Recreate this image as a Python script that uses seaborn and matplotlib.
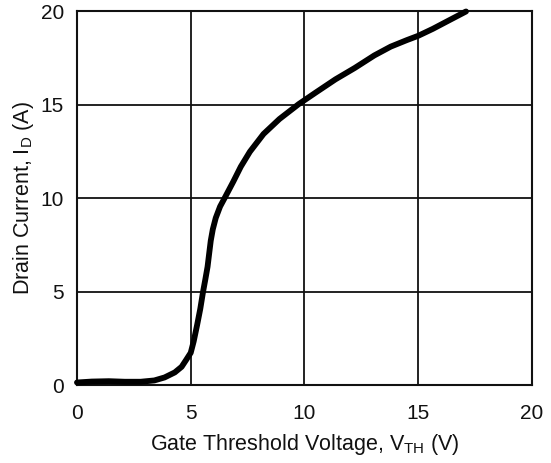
import matplotlib
matplotlib.use("Agg")
import matplotlib.pyplot as plt
import seaborn as sns
import pandas as pd

vth = [0, 0.65, 1.4, 2.1, 2.8, 3.4, 3.85, 4.3, 4.6, 4.8, 5.0, 5.13, 5.28, 5.42, 5.54,
       5.64, 5.74, 5.81, 5.88, 5.97, 6.1, 6.29, 6.48, 6.87, 7.2, 7.6, 8.2, 8.9, 9.75,
       10.5, 11.36, 12.21, 13.07, 13.79, 14.5, 15.0, 15.64, 16.36, 17.1]
drain = [0.16, 0.21, 0.23, 0.2, 0.2, 0.27, 0.43, 0.7, 1.0, 1.37, 1.75, 2.36, 3.23, 4.1,
         5.0, 5.66, 6.35, 7.05, 7.74, 8.35, 8.96, 9.57, 10.0, 10.9, 11.7, 12.5, 13.45,
         14.25, 15.05, 15.67, 16.37, 16.98, 17.65, 18.12, 18.47, 18.7, 19.07, 19.53, 20.0]
ticks = [0, 5, 10, 15, 20]

df = pd.DataFrame({"vth": vth, "id": drain})

sns.set_theme(style="white")
plt.rcParams['font.family'] = ['Liberation Sans', 'DejaVu Sans']
plt.rcParams['mathtext.fontset'] = 'custom'
plt.rcParams['mathtext.rm'] = 'Liberation Sans'
plt.rcParams['mathtext.it'] = 'Liberation Sans'

fig = plt.figure(figsize=(5.51, 4.63), dpi=100)
ax = fig.add_axes([0.1397, 0.1674, 0.8258, 0.8078])

ax.set_xlim(0, 20)
ax.set_ylim(0, 20)
ax.set_xticks(ticks)
ax.set_yticks(ticks)
ax.grid(True, color="#111111", linewidth=1.3)
ax.set_axisbelow(True)

sns.lineplot(data=df, x="vth", y="id", sort=False, color="black", linewidth=4.2,
             solid_capstyle="round", solid_joinstyle="round", ax=ax, clip_on=False, zorder=3)

for s in ax.spines.values():
    s.set_color("#111111")
    s.set_linewidth(1.5)

ax.tick_params(axis="both", length=0, labelsize=15, colors="#111111")
ax.tick_params(axis="x", pad=13)
ax.tick_params(axis="y", pad=9.5)
ax.set_xlabel("Gate Threshold Voltage, V$_{\\mathrm{TH}}$ (V)", fontsize=15.5, color="#111111", labelpad=6.5)
ax.set_ylabel("Drain Current, I$_{\\mathrm{D}}$ (A)", fontsize=15.5, color="#111111", labelpad=3)

fig.savefig("out.png", dpi=100)
